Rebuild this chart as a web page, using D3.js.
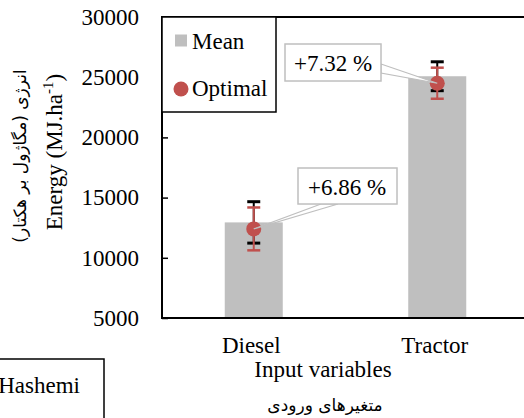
<!DOCTYPE html>
<html><head><meta charset="utf-8">
<script src="https://cdn.jsdelivr.net/npm/d3@7/dist/d3.min.js"></script>
<style>
html,body{margin:0;padding:0;background:#fff;}
svg{display:block;}
</style></head>
<body>
<svg id="c" width="524" height="418"></svg>
<script>
const categories = ["Diesel", "Tractor"];
const meanValues = [12940, 25080];
const meanErrors = [1720, 1200];
const optimalValues = [12400, 24500];
const optimalErrors = [1780, 1290];
const changeLabels = ["+6.86 %", "+7.32 %"];
const yTicks = [5000, 10000, 15000, 20000, 25000, 30000];
const seriesNames = ["Mean", "Optimal"];

const SERIF = "'Liberation Serif', 'Times New Roman', Times, serif";
const FA = "'DejaVu Sans', sans-serif";
const svg = d3.select("#c");
const L = 162, R = 529, T = 17, B = 318;
const FS = 23;
const gray = "#bfbfbf", red = "#c0504d";

const x = d3.scalePoint().domain(categories).range([L, R]).padding(0.5);
const y = d3.scaleLinear().domain([5000, 30000]).range([B, T]);

function txt(sel) { return sel.style("font-family", SERIF).style("fill", "#000"); }

// bars
const barW = 58;
svg.selectAll("rect.bar").data(categories).enter().append("rect")
  .attr("x", d => x(d) - barW / 2)
  .attr("y", (d, i) => y(meanValues[i]))
  .attr("width", barW)
  .attr("height", (d, i) => B - y(meanValues[i]))
  .attr("fill", gray);

// error bars
function errBars(vals, errs, color, capW) {
  const g = svg.append("g").attr("stroke", color);
  categories.forEach((c, i) => {
    const cx = x(c), hi = y(vals[i] + errs[i]), lo = y(vals[i] - errs[i]);
    g.append("line").attr("x1", cx).attr("x2", cx).attr("y1", hi).attr("y2", lo).attr("stroke-width", 2);
    g.append("line").attr("x1", cx - 6.5).attr("x2", cx + 6.5).attr("y1", hi).attr("y2", hi).attr("stroke-width", capW);
    g.append("line").attr("x1", cx - 6.5).attr("x2", cx + 6.5).attr("y1", lo).attr("y2", lo).attr("stroke-width", capW);
  });
}
errBars(meanValues, meanErrors, "#000", 3);
errBars(optimalValues, optimalErrors, red, 2.5);

// optimal points
svg.selectAll("circle.pt").data(categories).enter().append("circle")
  .attr("cx", d => x(d))
  .attr("cy", (d, i) => y(optimalValues[i]))
  .attr("r", 7.5)
  .attr("fill", red);

// callouts
const callouts = [
  {box: [298, 168, 99, 36], base: [[321, 204], [338, 204]], tx: 347, ty: 195},
  {box: [285, 44, 96, 37], base: [[381, 64], [381, 73]], tx: 333, ty: 71}
];
callouts.forEach((c, i) => {
  const tip = [x(categories[i]), y(optimalValues[i])];
  svg.append("polygon")
    .attr("points", [c.base[0], tip, c.base[1]].map(p => p.join(",")).join(" "))
    .attr("fill", "#fff").attr("stroke", gray).attr("stroke-width", 1.2);
  svg.append("rect").attr("x", c.box[0]).attr("y", c.box[1]).attr("width", c.box[2]).attr("height", c.box[3])
    .attr("fill", "#fff").attr("stroke", gray).attr("stroke-width", 1.5);
  txt(svg.append("text").attr("x", c.tx).attr("y", c.ty).attr("text-anchor", "middle")
    .attr("font-size", FS).text(changeLabels[i]));
});

// frame
const frame = svg.append("g").attr("stroke", "#000").attr("stroke-width", 2).attr("fill", "none");
frame.append("path").attr("d", `M${R + 10},${T}H${L}V${B}H${R + 10}`);

// y axis
const ya = svg.append("g").attr("transform", `translate(${L},0)`)
  .call(d3.axisLeft(y).tickValues(yTicks).tickSize(-6).tickPadding(23).tickFormat(d3.format("d")));
ya.select(".domain").remove();
ya.selectAll("line").attr("stroke", "#000").attr("stroke-width", 1.5);
txt(ya.selectAll("text").attr("font-size", FS));

// x axis
const xa = svg.append("g").attr("transform", `translate(-3,${B})`)
  .call(d3.axisBottom(x).tickSize(0).tickPadding(19));
xa.select(".domain").remove();
txt(xa.selectAll("text").attr("font-size", FS));

// legend
svg.append("rect").attr("x", L).attr("y", T).attr("width", 114).attr("height", 95)
  .attr("fill", "#fff").attr("stroke", "#000").attr("stroke-width", 1.5);
svg.append("rect").attr("x", 175).attr("y", 34.5).attr("width", 12).attr("height", 12).attr("fill", gray);
txt(svg.append("text").attr("x", 192).attr("y", 48.5).attr("font-size", FS).text(seriesNames[0]));
svg.append("circle").attr("cx", 181).attr("cy", 89).attr("r", 7.5).attr("fill", red);
txt(svg.append("text").attr("x", 192).attr("y", 96).attr("font-size", FS).text(seriesNames[1]));

// axis titles
txt(svg.append("text").attr("x", 323).attr("y", 377).attr("text-anchor", "middle").attr("font-size", FS).text("Input variables"));
svg.append("text").attr("x", 325).attr("y", 411).attr("text-anchor", "middle")
  .style("font-family", FA).attr("font-size", 17).attr("direction", "rtl").text("متغیرهای ورودی");

const yt = txt(svg.append("text").attr("transform", "translate(62,152) rotate(-90)").attr("text-anchor", "middle").attr("font-size", FS));
yt.append("tspan").text("Energy (MJ.ha");
yt.append("tspan").attr("font-size", 15).attr("dy", -9).text("-1");
yt.append("tspan").attr("dy", 9).text(")");
svg.append("text").attr("transform", "translate(26,156) rotate(-90)").attr("text-anchor", "middle")
  .style("font-family", FA).attr("font-size", 17).attr("direction", "rtl").text("انرژی (مگاژول بر هکتار)");

// bottom-left box
svg.append("rect").attr("x", -10).attr("y", 359).attr("width", 114).attr("height", 80)
  .attr("fill", "#fff").attr("stroke", "#000").attr("stroke-width", 1.5);
txt(svg.append("text").attr("x", 80).attr("y", 393).attr("text-anchor", "end").attr("font-size", FS).text("Hashemi"));
</script>
</body></html>
